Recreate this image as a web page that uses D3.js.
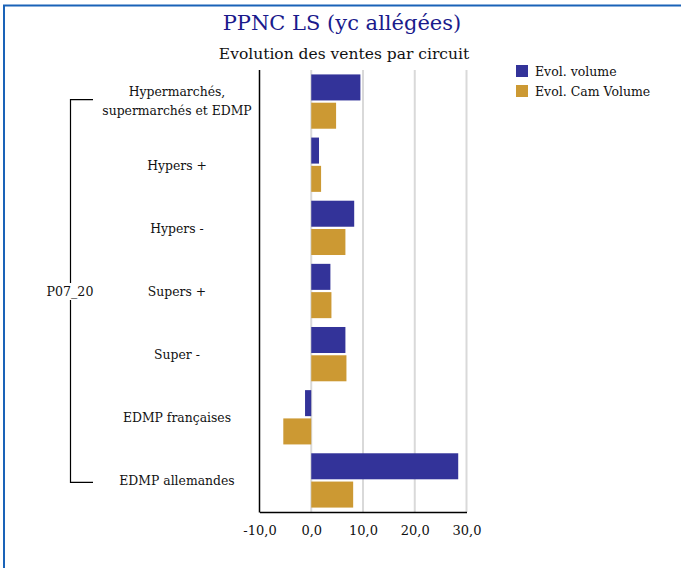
<!DOCTYPE html>
<html><head><meta charset="utf-8">
<script src="https://cdn.jsdelivr.net/npm/d3@7"></script>
<style>body{margin:0;background:#fff;} svg{display:block;}</style>
</head><body>
<script>
const categories = ["Hypermarchés,\nsupermarchés et EDMP","Hypers +","Hypers -","Supers +","Super -","EDMP françaises","EDMP allemandes"];
const evolVolume = [9.5, 1.5, 8.3, 3.7, 6.6, -1.2, 28.4];
const evolCamVolume = [4.8, 1.9, 6.6, 3.9, 6.8, -5.4, 8.1];
const seriesNames = ["Evol. volume","Evol. Cam Volume"];
const seriesColors = ["#333399","#cc9933"];
const tickValues = [-10,0,10,20,30];
const groupLabel = "P07_20";

(function(){
const W=681,H=568;
const svg=d3.select("body").append("svg").attr("width",W).attr("height",H);
const font="'DejaVu Serif', serif";
svg.append("rect").attr("x",4).attr("y",5.5).attr("width",W+10).attr("height",H+10)
  .attr("fill","none").attr("stroke","#1a63b8").attr("stroke-width",2);

svg.append("text").attr("x",342).attr("y",30).attr("text-anchor","middle")
  .attr("font-family",font).attr("font-size",21).attr("fill","#1a1a8c").text("PPNC LS (yc allégées)");
svg.append("text").attr("x",344).attr("y",59).attr("text-anchor","middle")
  .attr("font-family",font).attr("font-size",15.5).attr("fill","#111").text("Evolution des ventes par circuit");

const x=d3.scaleLinear().domain([-10,30]).range([259.5,466.5]);
const y=d3.scaleBand().domain(categories).range([70,512]).paddingInner(0.14).paddingOuter(0.07);
const inner=d3.scaleBand().domain([0,1]).range([0,y.bandwidth()]).paddingInner(0.08);

svg.append("g").selectAll("line").data(tickValues.filter(d=>d!==-10)).join("line")
  .attr("x1",d=>x(d)).attr("x2",d=>x(d)).attr("y1",70).attr("y2",512)
  .attr("stroke","#d9d9d9").attr("stroke-width",2);

const series=[evolVolume,evolCamVolume];
series.forEach((vals,si)=>{
  svg.append("g").selectAll("rect").data(vals).join("rect")
    .attr("x",d=>x(Math.min(0,d))).attr("width",d=>Math.abs(x(d)-x(0)))
    .attr("y",(d,i)=>y(categories[i])+inner(si)).attr("height",inner.bandwidth())
    .attr("fill",seriesColors[si]);
});

const xa=svg.append("g").attr("transform","translate(0,512)")
  .call(d3.axisBottom(x).tickValues(tickValues).tickSize(0).tickFormat(d=>d.toFixed(1).replace(".",",")));
xa.select(".domain").attr("stroke","#000").attr("stroke-width",1.5);
xa.selectAll("text").attr("font-family",font).attr("font-size",13).attr("fill","#111").attr("dy","1.5em");
svg.append("line").attr("x1",259.5).attr("x2",259.5).attr("y1",70).attr("y2",512.5).attr("stroke","#000").attr("stroke-width",1.5);

const lab=svg.append("g");
categories.forEach(c=>{
  const lines=c.split("\n");
  const cy=y(c)+y.bandwidth()/2;
  const t=lab.append("text").attr("x",177).attr("text-anchor","middle")
    .attr("font-family",font).attr("font-size",12.4).attr("fill","#111");
  lines.forEach((l,i)=>{
    t.append("tspan").attr("x",177).attr("y",cy+5+(i-(lines.length-1)/2)*19-(lines.length>1?1:0)).text(l);
  });
});

const yTop=y(categories[0])+y.bandwidth()/2-2, yBot=y(categories[categories.length-1])+y.bandwidth()/2+2;
svg.append("path").attr("d",`M93,${yTop}H70.5V${yBot}H93`).attr("fill","none").attr("stroke","#000").attr("stroke-width",1.2);
svg.append("rect").attr("x",60).attr("y",283).attr("width",22).attr("height",17).attr("fill","#fff");
svg.append("text").attr("x",70).attr("y",296).attr("text-anchor","middle")
  .attr("font-family",font).attr("font-size",12.6).attr("fill","#111").text(groupLabel);

seriesNames.forEach((n,i)=>{
  svg.append("rect").attr("x",516).attr("y",65+i*20).attr("width",12).attr("height",12).attr("fill",seriesColors[i]);
  svg.append("text").attr("x",535).attr("y",76+i*20).attr("font-family",font).attr("font-size",12.5).attr("fill","#111").text(n);
});
})();
</script>
</body></html>
